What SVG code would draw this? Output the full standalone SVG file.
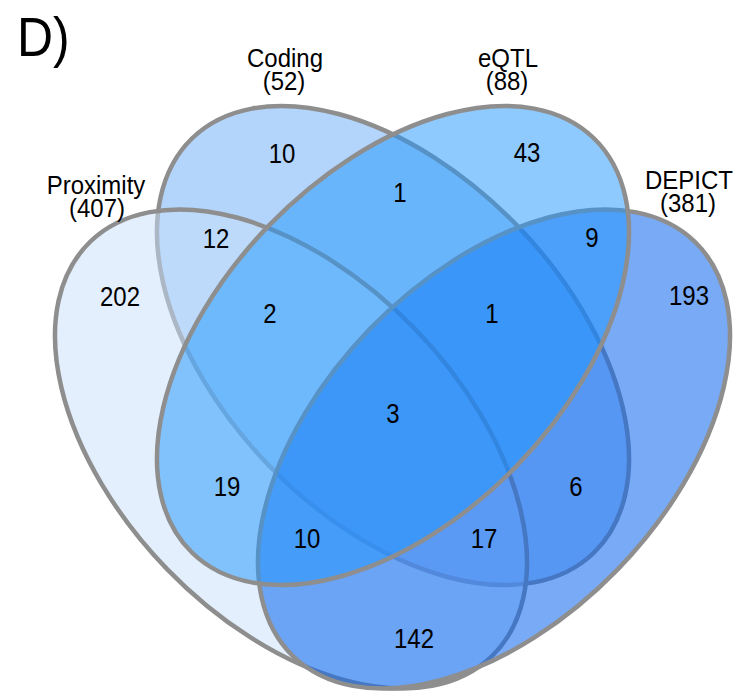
<svg xmlns="http://www.w3.org/2000/svg" width="740" height="692" viewBox="0 0 740 692">
  <style>
    .set { stroke: #8e8e8e; stroke-width: 4.5; }
    .lbl { font-family: "Liberation Sans", Arial, sans-serif; font-size: 24px; fill: #000; text-anchor: middle; }
    .num { font-family: "Liberation Sans", Arial, sans-serif; font-size: 24px; fill: #000; text-anchor: middle; }
    .panel { font-family: "Liberation Sans", Arial, sans-serif; font-size: 50px; fill: #000; }
  </style>
  <rect width="740" height="692" fill="#ffffff"/>

  <!-- panel letter -->
  <text class="panel" transform="translate(17 56) scale(1 1.12)">D)</text>

  <!-- four-set Venn: ellipses drawn in order Coding, Proximity, DEPICT, eQTL -->
  <g id="set-coding">
    <ellipse class="set" cx="0" cy="0" rx="288.6" ry="172.6" transform="translate(393 345.5) rotate(45.9)" fill="#67a9f7" fill-opacity="0.5"/>
    <text class="lbl" transform="translate(285 67) scale(1 1.1)">Coding</text>
    <text class="lbl" transform="translate(284 90) scale(1 1.1)">(52)</text>
  </g>
  <g id="set-proximity">
    <ellipse class="set" cx="0" cy="0" rx="288.6" ry="172.6" transform="translate(291 449) rotate(45.9)" fill="#c7dffb" fill-opacity="0.5"/>
    <text class="lbl" transform="translate(96 194) scale(1 1.1)">Proximity</text>
    <text class="lbl" transform="translate(97 217) scale(1 1.1)">(407)</text>
  </g>
  <g id="set-depict">
    <ellipse class="set" cx="0" cy="0" rx="288.6" ry="172.6" transform="translate(494 449) rotate(-45.9)" fill="#0a64ef" fill-opacity="0.55"/>
    <text class="lbl" transform="translate(689 189) scale(1 1.1)">DEPICT</text>
    <text class="lbl" transform="translate(688 212) scale(1 1.1)">(381)</text>
  </g>
  <g id="set-eqtl">
    <ellipse class="set" cx="0" cy="0" rx="288.6" ry="172.6" transform="translate(393 345.5) rotate(-45.9)" fill="#1f95fd" fill-opacity="0.5"/>
    <text class="lbl" transform="translate(508 67) scale(1 1.1)">eQTL</text>
    <text class="lbl" transform="translate(507 90) scale(1 1.1)">(88)</text>
  </g>

  <!-- region counts -->
  <g id="counts">
    <text class="num" transform="translate(282 163) scale(1 1.12)">10</text>
    <text class="num" transform="translate(527 162) scale(1 1.12)">43</text>
    <text class="num" transform="translate(400 202) scale(1 1.12)">1</text>
    <text class="num" transform="translate(216 248) scale(1 1.12)">12</text>
    <text class="num" transform="translate(592 247) scale(1 1.12)">9</text>
    <text class="num" transform="translate(120 306) scale(1 1.12)">202</text>
    <text class="num" transform="translate(270 323) scale(1 1.12)">2</text>
    <text class="num" transform="translate(492 323) scale(1 1.12)">1</text>
    <text class="num" transform="translate(689 305) scale(1 1.12)">193</text>
    <text class="num" transform="translate(393 423) scale(1 1.12)">3</text>
    <text class="num" transform="translate(227 496) scale(1 1.12)">19</text>
    <text class="num" transform="translate(576 496) scale(1 1.12)">6</text>
    <text class="num" transform="translate(307 548) scale(1 1.12)">10</text>
    <text class="num" transform="translate(484 548) scale(1 1.12)">17</text>
    <text class="num" transform="translate(414 648) scale(1 1.12)">142</text>
  </g>
</svg>
